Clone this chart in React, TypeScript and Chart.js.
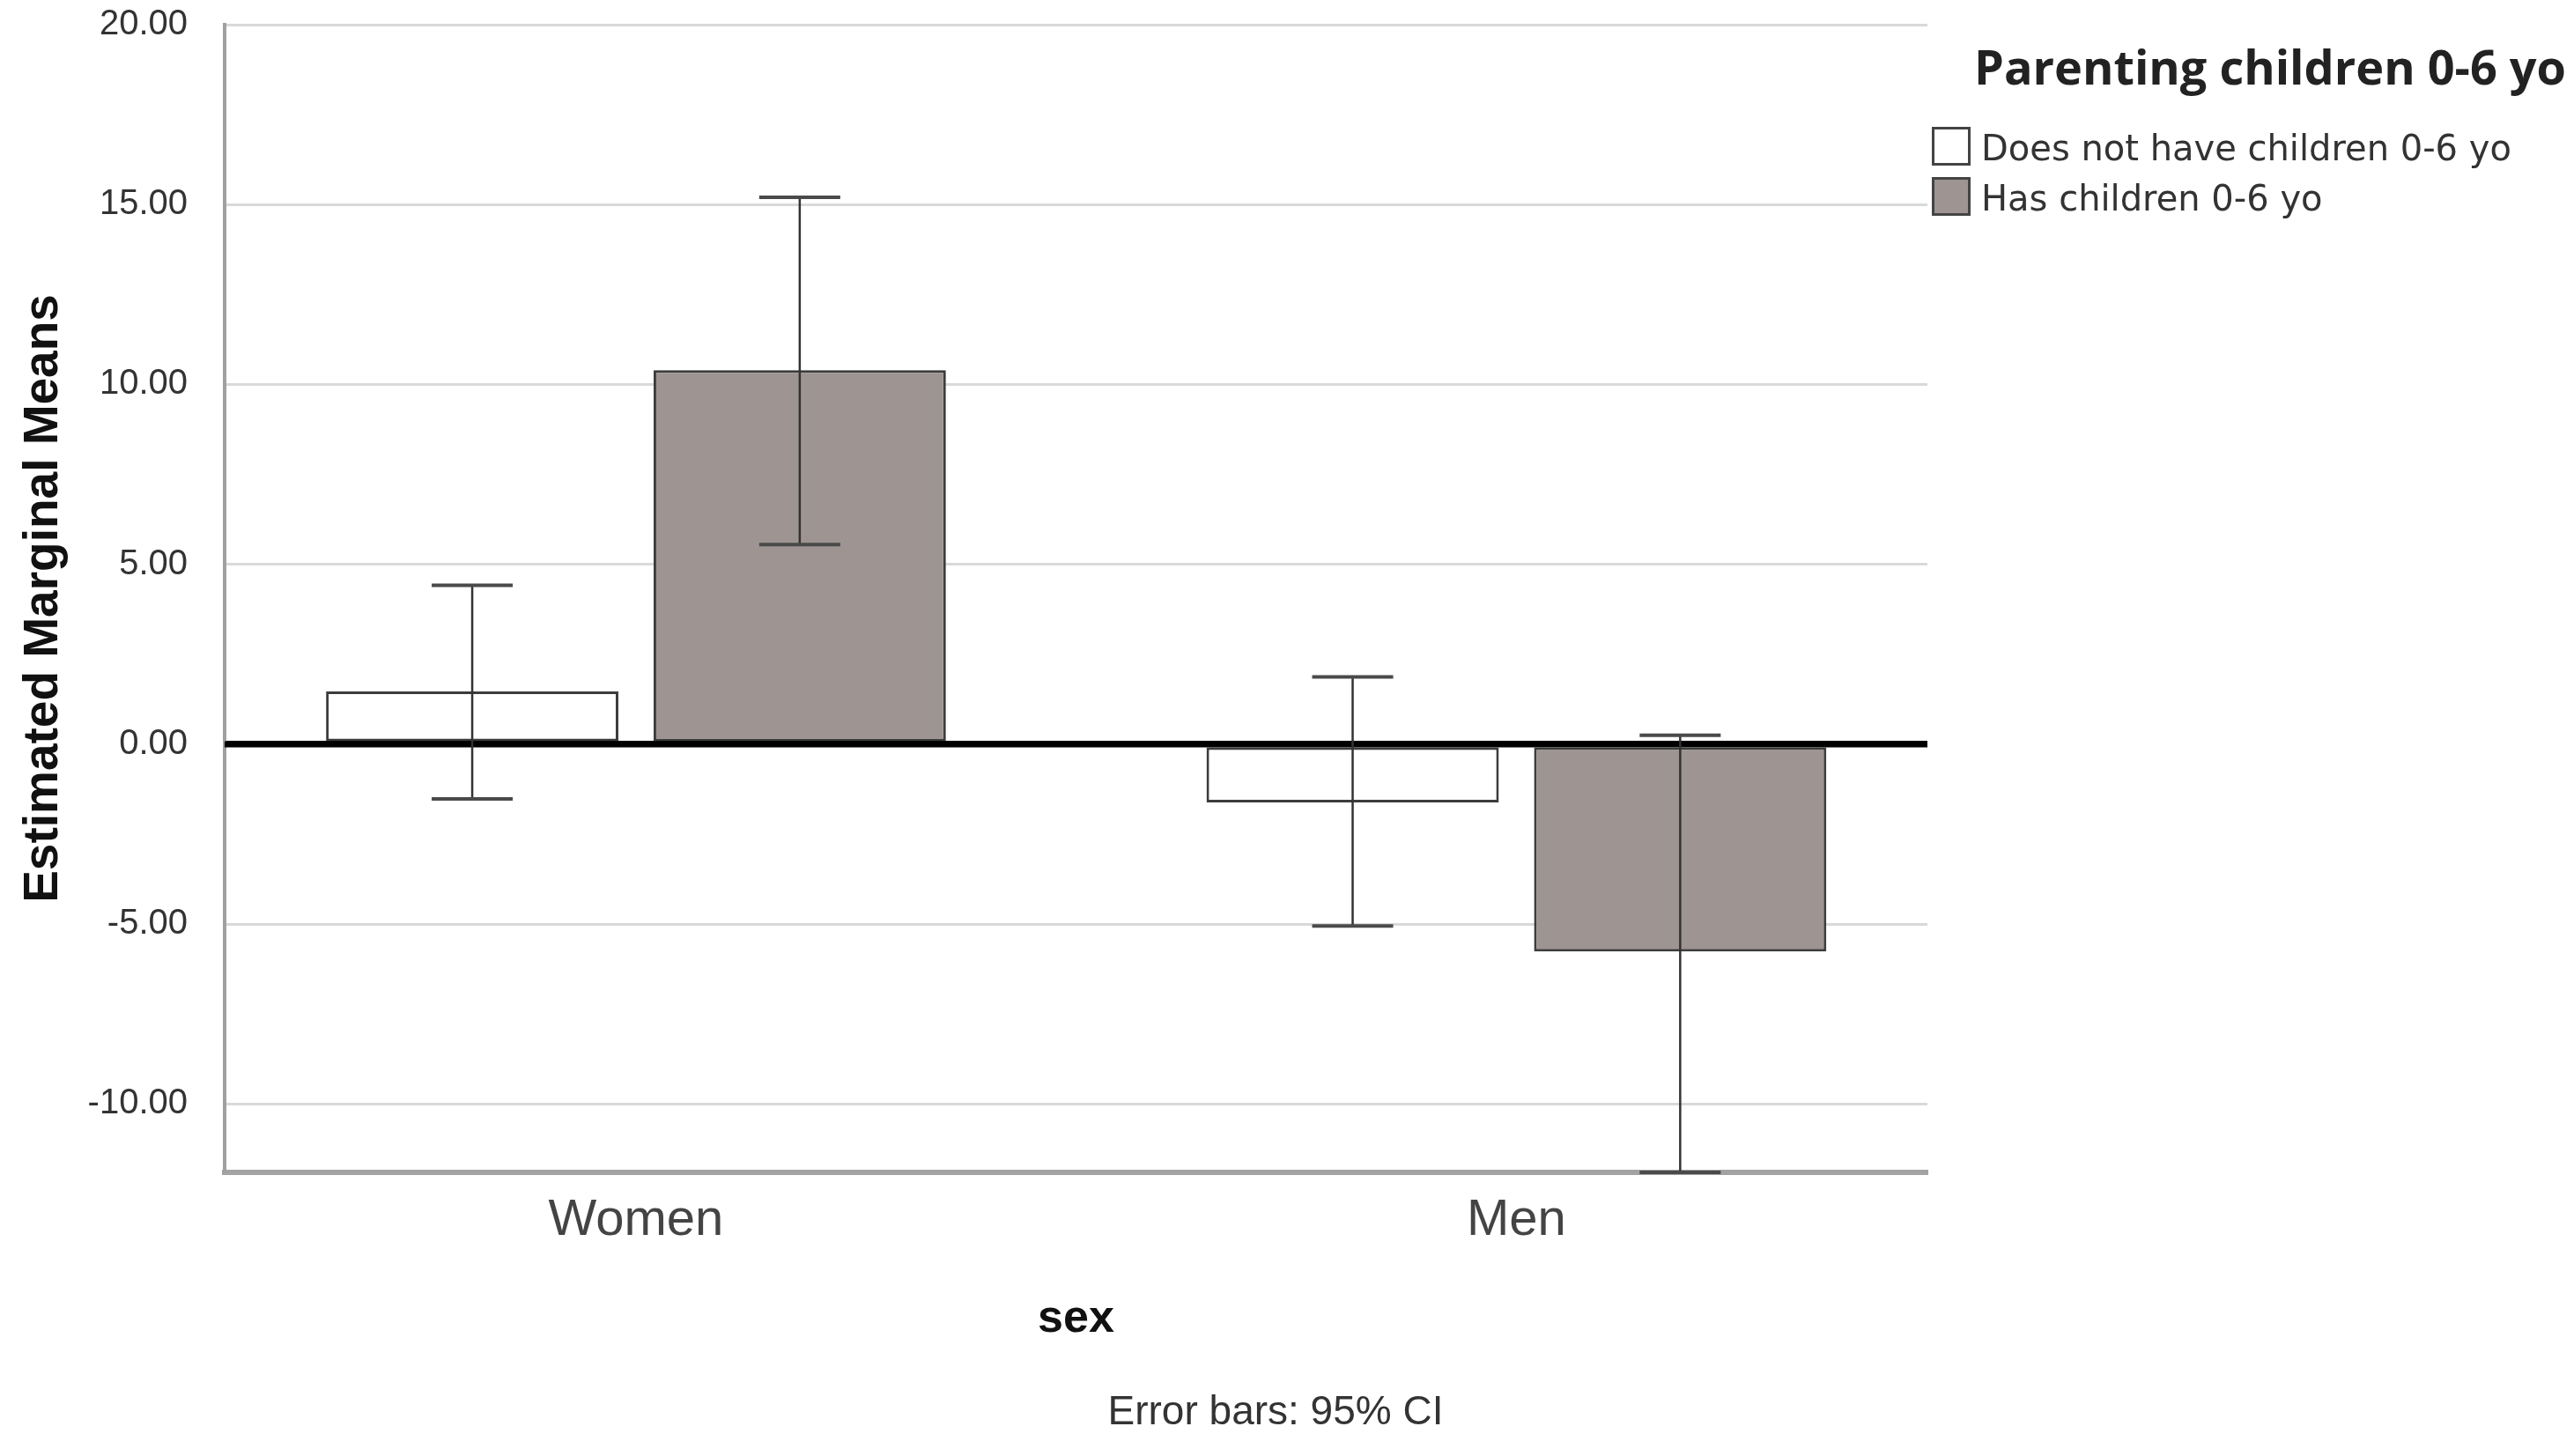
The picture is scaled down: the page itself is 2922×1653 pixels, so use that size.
import React, { useEffect, useRef } from 'react';
import { Chart, registerables } from 'chart.js';

Chart.register(...registerables);

// ---- data ----
const categories = ['Women', 'Men'];
const seriesLabels = ['Does not have children 0-6 yo', 'Has children 0-6 yo'];
const noChildrenMeans = [1.47, -1.62];
const noChildrenLower = [-1.52, -5.05];
const noChildrenUpper = [4.42, 1.87];
const hasChildrenMeans = [10.4, -5.76];
const hasChildrenLower = [5.55, -11.9];
const hasChildrenUpper = [15.2, 0.25];
const yTickValues = [-10, -5, 0, 5, 10, 15, 20];
const legendTitle = 'Parenting children 0-6 yo';
const xAxisTitle = 'sex';
const yAxisTitle = 'Estimated Marginal Means';
const footnote = 'Error bars: 95% CI';

const seriesColors = ['#ffffff', '#9e9492'];
const errorBars = [
  [noChildrenLower, noChildrenUpper],
  [hasChildrenLower, hasChildrenUpper],
];

const overlayPlugin = {
  id: 'overlay',
  afterDatasetsDraw(chart: any) {
    const { ctx, chartArea, scales } = chart;
    const y = scales.y;
    const y0 = y.getPixelForValue(0);
    ctx.save();
    ctx.strokeStyle = '#000000';
    ctx.lineWidth = 7;
    ctx.beginPath();
    ctx.moveTo(chartArea.left, y0);
    ctx.lineTo(chartArea.right, y0);
    ctx.stroke();
    errorBars.forEach(([lo, hi], di) => {
      const meta = chart.getDatasetMeta(di);
      meta.data.forEach((el: any, j: number) => {
        const x = el.x;
        const yl = y.getPixelForValue(lo[j]);
        const yh = y.getPixelForValue(hi[j]);
        ctx.strokeStyle = '#333333';
        ctx.lineWidth = 2.5;
        ctx.beginPath();
        ctx.moveTo(x, yh);
        ctx.lineTo(x, yl);
        ctx.stroke();
        ctx.strokeStyle = '#4a4a4a';
        ctx.lineWidth = 4;
        const hw = 46;
        ctx.beginPath();
        ctx.moveTo(x - hw, yh);
        ctx.lineTo(x + hw, yh);
        ctx.moveTo(x - hw, yl);
        ctx.lineTo(x + hw, yl);
        ctx.stroke();
      });
    });
    ctx.restore();
  },
  afterDraw(chart: any) {
    const { ctx, chartArea } = chart;
    const r = chartArea.right;
    ctx.save();
    // legend title
    ctx.fillStyle = '#222222';
    ctx.font = "bold 54px 'Open Sans', 'Noto Sans', sans-serif";
    ctx.textAlign = 'left';
    ctx.textBaseline = 'alphabetic';
    ctx.fillText(legendTitle, r + 53, 96);
    // legend items
    chart.data.datasets.forEach((ds: any, i: number) => {
      const top = 144 + i * 57;
      ctx.fillStyle = ds.backgroundColor;
      ctx.fillRect(r + 5, top, 44, 44);
      ctx.strokeStyle = '#444444';
      ctx.lineWidth = 3;
      ctx.strokeRect(r + 6.5, top + 1.5, 41, 41);
      ctx.fillStyle = '#333333';
      ctx.font = "40px 'DejaVu Sans', sans-serif";
      ctx.fillText(ds.label, r + 61, top + 38);
    });
    // footnote
    ctx.fillStyle = '#333333';
    ctx.font = "46px 'Liberation Sans', Arial, sans-serif";
    ctx.textAlign = 'center';
    ctx.textBaseline = 'middle';
    ctx.fillText(footnote, chart.width / 2 - 13, 1604);
    ctx.restore();
  },
};

export default function App() {
  const canvasRef = useRef<HTMLCanvasElement | null>(null);

  useEffect(() => {
    if (!canvasRef.current) return;
    Chart.defaults.font.family = "'Liberation Sans', Arial, sans-serif";
    const means = [noChildrenMeans, hasChildrenMeans];
    const chart = new Chart(canvasRef.current, {
      type: 'bar',
      data: {
        datasets: seriesLabels.map((label, di) => ({
          label,
          data: categories.map((_, i) => ({ x: i, y: means[di][i] })),
          backgroundColor: seriesColors[di],
          borderColor: '#3c3c3c',
          borderWidth: 3,
          borderSkipped: false,
          categoryPercentage: 0.744,
          barPercentage: 0.8925,
        })),
      },
      options: {
        animation: false,
        responsive: true,
        maintainAspectRatio: false,
        layout: { padding: { top: 28, right: 734, bottom: 82, left: 0 } },
        plugins: {
          legend: { display: false },
          tooltip: { enabled: false },
          title: { display: false },
        },
        scales: {
          x: {
            type: 'linear',
            min: -0.4672,
            max: 1.4668,
            offset: false,
            grid: { display: false, drawTicks: false, offset: false },
            border: { display: true, color: '#a3a3a3', width: 6 },
            afterBuildTicks: (s: any) => {
              s.ticks = categories.map((_, i) => ({ value: i }));
            },
            afterFit: (s: any) => {
              s.height = 240;
              s.paddingLeft = 0;
              s.paddingRight = 0;
            },
            ticks: {
              padding: 20,
              maxRotation: 0,
              autoSkip: false,
              color: '#444444',
              font: { size: 58 },
              callback: (v: any) => categories[Math.round(Number(v))] ?? '',
            },
            title: {
              display: true,
              text: xAxisTitle,
              color: '#111111',
              font: { size: 52, weight: 'bold' },
              padding: { top: 0, bottom: 42 },
            },
          },
          y: {
            type: 'linear',
            min: -11.9,
            max: 20,
            afterBuildTicks: (s: any) => {
              s.ticks = yTickValues.map((v) => ({ value: v }));
            },
            afterFit: (s: any) => {
              s.width = 255;
              s.paddingTop = 0;
              s.paddingBottom = 0;
            },
            grid: {
              drawTicks: false,
              color: (c: any) => (c.tick && c.tick.value === 0 ? '#000000' : '#d9d9d9'),
              lineWidth: (c: any) => (c.tick && c.tick.value === 0 ? 7 : 3),
            },
            border: { display: true, color: '#a0a0a0', width: 4 },
            ticks: {
              padding: 42,
              color: '#333333',
              font: { size: 40 },
              callback: (v: any) => Number(v).toFixed(2),
            },
            title: {
              display: true,
              text: yAxisTitle,
              color: '#111111',
              font: { size: 55, weight: 'bold' },
              padding: { top: 17, bottom: 0 },
            },
          },
        },
      } as any,
      plugins: [overlayPlugin],
    });
    return () => chart.destroy();
  }, []);

  return (
    <div style={{ position: 'fixed', left: 0, top: 0, width: '100vw', height: '100vh', background: '#ffffff' }}>
      <canvas ref={canvasRef} />
    </div>
  );
}
